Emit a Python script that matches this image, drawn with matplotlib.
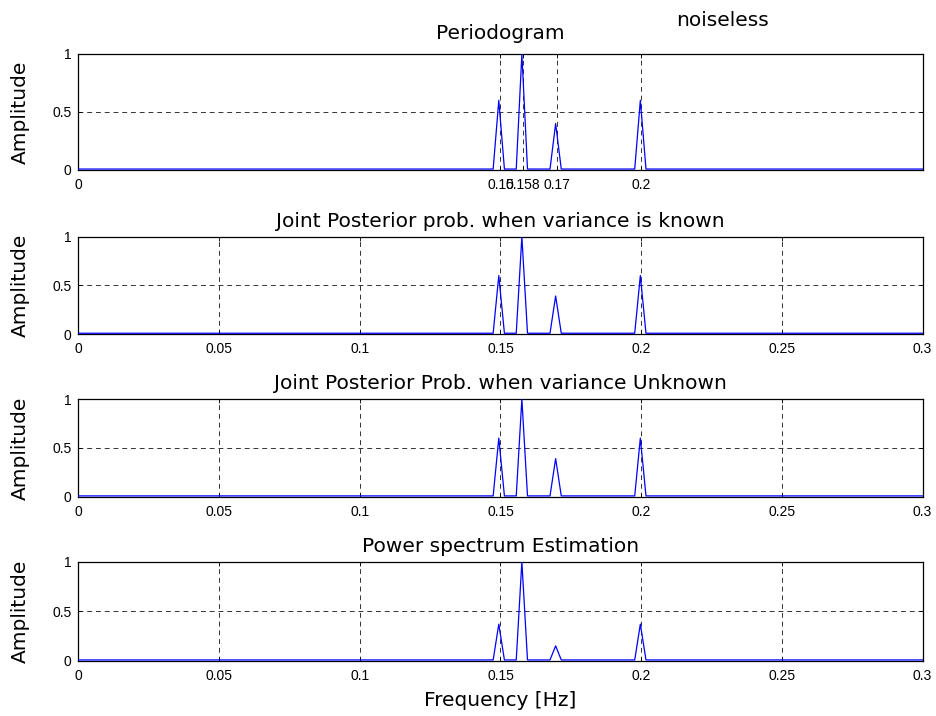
import matplotlib
matplotlib.use('Agg')
import matplotlib.pyplot as plt

plt.rcParams['font.family'] = ['Liberation Sans', 'DejaVu Sans']

# peak frequencies (Hz)
peak_freqs = [0.1494, 0.1576, 0.1696, 0.1997]
bin_width = 0.002
baseline = 0.008

titles = ['Periodogram',
          'Joint Posterior prob. when variance is known',
          'Joint Posterior Prob. when variance Unknown',
          'Power spectrum Estimation']
peak_heights = [
    [0.60, 1.00, 0.40, 0.60],
    [0.60, 1.00, 0.39, 0.60],
    [0.60, 1.00, 0.39, 0.60],
    [0.37, 1.00, 0.15, 0.37],
]
xticks_first = [0, 0.15, 0.158, 0.17, 0.2]
xticklabels_first = ['0', '0.15', '0.158', '0.17', '0.2']
xticks_rest = [0, 0.05, 0.1, 0.15, 0.2, 0.25, 0.3]
xticklabels_rest = ['0', '0.05', '0.1', '0.15', '0.2', '0.25', '0.3']
yticks = [0, 0.5, 1]
yticklabels = ['0', '0.5', '1']

# axes boxes in figure fraction: left, bottom, width, height
boxes = [
    [0.0837, 0.7626, 0.902, 0.162],
    [0.0837, 0.5335, 0.902, 0.136],
    [0.0837, 0.3063, 0.902, 0.1364],
    [0.0837, 0.0772, 0.902, 0.1382],
]
title_pads = [11, 7, 7, 7]

label_font = dict(family='DejaVu Sans', size=14.5)


def spectrum(heights):
    xs = [0.0]
    ys = [baseline]
    for f, h in zip(peak_freqs, heights):
        xs += [f - bin_width, f, f + bin_width]
        ys += [baseline, h, baseline]
    xs.append(0.3)
    ys.append(baseline)
    return xs, ys


fig = plt.figure(figsize=(9.36, 7.16), dpi=100)

for i in range(4):
    ax = fig.add_axes(boxes[i])
    xs, ys = spectrum(peak_heights[i])
    ax.plot(xs, ys, color='blue', lw=0.9, zorder=3)
    ax.set_xlim(0, 0.3)
    ax.set_ylim(0, 1)
    if i == 0:
        ax.set_xticks(xticks_first)
        ax.set_xticklabels(xticklabels_first)
    else:
        ax.set_xticks(xticks_rest)
        ax.set_xticklabels(xticklabels_rest)
    ax.set_yticks(yticks)
    ax.set_yticklabels(yticklabels)
    ax.grid(True, color='#333333', linestyle=(0, (5, 4)), lw=0.7)
    ax.tick_params(direction='in', length=3, width=0.6, labelsize=10,
                   top=True, right=True)
    ax.tick_params(axis='x', pad=6)
    ax.tick_params(axis='y', pad=5)
    for s in ax.spines.values():
        s.set_linewidth(0.9)
    ax.set_title(titles[i], fontdict=label_font, pad=title_pads[i])
    ax.set_ylabel('Amplitude', fontdict=label_font)
    ax.yaxis.set_label_coords(-0.058, 0.5)
    if i == 3:
        ax.set_xlabel('Frequency [Hz]', fontdict=label_font, labelpad=6)

fig.text(722 / 936, 1 - 21 / 716, 'noiseless', fontdict=label_font,
         ha='center', va='center')

fig.savefig('out.png', dpi=100)
